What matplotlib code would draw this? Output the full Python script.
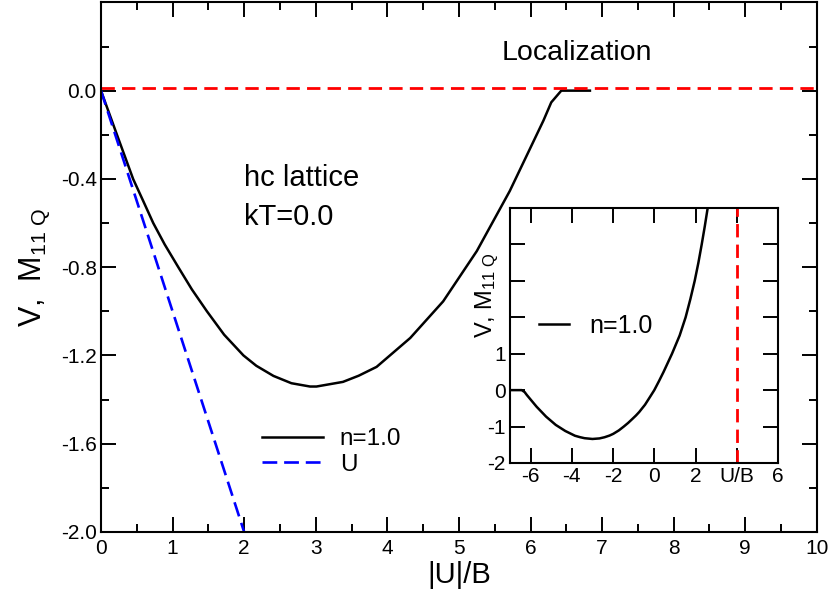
import matplotlib
matplotlib.use("Agg")
import matplotlib.pyplot as plt
from matplotlib.ticker import MultipleLocator

plt.rcParams['font.family'] = ['Liberation Sans', 'DejaVu Sans']
plt.rcParams['mathtext.fontset'] = 'custom'
plt.rcParams['mathtext.rm'] = 'Liberation Sans'
plt.rcParams['mathtext.it'] = 'Liberation Sans'

# main curve n=1.0
u_main = [0.0, 0.22, 0.45, 0.59, 0.73, 0.89, 1.08, 1.27, 1.48, 1.72,
          1.99, 2.17, 2.41, 2.66, 2.92, 3.01, 3.38, 3.6, 3.85, 4.32, 4.78,
          5.25, 5.71, 5.99, 6.18, 6.29, 6.43, 6.83]
v_main = [0.0, -0.197, -0.401, -0.50, -0.60, -0.697, -0.80, -0.901,
          -1.0, -1.106, -1.2, -1.247, -1.293, -1.326, -1.341, -1.341, -1.32,
          -1.292, -1.252, -1.121, -0.955, -0.727, -0.455, -0.265, -0.136,
          -0.053, 0.0, 0.0]
# bare U line
u_line = [0.0, 2.0]
v_line = [0.0, -2.0]
loc_level = 0.01

# inset: signed U/B
u_ins = [-7.0, -6.43, -6.29, -6.18, -5.99, -5.71, -5.25, -4.78, -4.32, -3.85,
         -3.6, -3.38, -3.0, -2.66, -2.41, -2.17, -1.99, -1.72, -1.48, -1.27,
         -1.08, -0.89, -0.73, -0.59, -0.45, -0.22, 0.0,
         0.23, 0.45, 0.86, 1.23, 1.52, 1.75, 1.96, 2.14, 2.30, 2.45, 2.59]
v_ins = [0.0, 0.0, -0.053, -0.136, -0.265, -0.455, -0.727, -0.955, -1.121,
         -1.252, -1.292, -1.32, -1.341, -1.326, -1.293, -1.247, -1.2, -1.106,
         -1.0, -0.901, -0.80, -0.697, -0.60, -0.50, -0.401, -0.197, 0.0,
         0.25, 0.5, 1.0, 1.5, 2.0, 2.5, 3.0, 3.5, 4.0, 4.5, 5.0]
u_crit = 4.0
ins_xticks = [-6, -4, -2, 0, 2, 4, 6]
ins_xlabels = ['-6', '-4', '-2', '0', '2', 'U/B', '6']
ins_yticks = [-2, -1, 0, 1, 2, 3, 4]
ins_ylabels = ['-2', '-1', '0', '1', '', '', '']

fig = plt.figure(figsize=(8.31, 5.97), dpi=100)
ax = fig.add_axes([0.1215, 0.109, 0.8615, 0.887])

ax.plot(u_main, v_main, color='black', lw=1.8, label='n=1.0')
ax.plot(u_line, v_line, color='blue', lw=1.9, dashes=(5.6, 2.6), label='U')
ax.axhline(loc_level, color='red', lw=2.0, dashes=(4.8, 2.6))

ax.set_xlim(0, 10)
ax.set_ylim(-2.0, 0.4)
ax.xaxis.set_major_locator(MultipleLocator(1))
ax.xaxis.set_minor_locator(MultipleLocator(0.5))
ax.set_yticks([-2.0, -1.6, -1.2, -0.8, -0.4, 0.0])
ax.set_yticklabels(['-2.0', '-1.6', '-1.2', '-0.8', '-0.4', '0.0'])
ax.yaxis.set_minor_locator(MultipleLocator(0.2))
ax.tick_params(which='both', direction='in', top=True, right=True,
               labelsize=15, width=1.4)
ax.tick_params(which='major', length=11)
ax.tick_params(axis='x', which='major', pad=5)
ax.tick_params(axis='y', which='major', pad=3)
ax.tick_params(which='minor', length=6)
for s in ax.spines.values():
    s.set_linewidth(1.5)

ax.set_xlabel('|U|/B', fontsize=21, labelpad=2)
ax.set_ylabel(r'V,  M$_{11\ Q}$', fontsize=22, labelpad=6)

ax.text(6.65, 0.17, 'Localization', fontsize=20.5, ha='center', va='center')
ax.text(2.0, -0.395, 'hc lattice', fontsize=21, ha='left', va='center')
ax.text(2.0, -0.573, 'kT=0.0', fontsize=21, ha='left', va='center')

ax.legend(loc='upper left', bbox_to_anchor=(0.225, 0.196), frameon=False,
          fontsize=17.5, handlelength=2.5, handletextpad=0.7,
          labelspacing=0.15, borderpad=0, borderaxespad=0)

# inset
axi = fig.add_axes([0.6137, 0.2245, 0.3225, 0.4271])
axi.plot(u_ins, v_ins, color='black', lw=1.8, label='n=1.0')
axi.axvline(u_crit, color='red', lw=2.0, dashes=(4.8, 2.6))
axi.set_xlim(-7, 6)
axi.set_ylim(-2, 5)
axi.set_xticks(ins_xticks)
axi.set_xticklabels(ins_xlabels)
axi.set_yticks(ins_yticks)
axi.set_yticklabels(ins_ylabels)
axi.tick_params(direction='in', top=True, right=True, labelsize=15,
                length=11, width=1.4, pad=3)
for s in axi.spines.values():
    s.set_linewidth(1.5)
axi.text(-0.085, 0.66, r'V, M$_{11\ Q}$', transform=axi.transAxes,
         rotation=90, fontsize=17, ha='center', va='center')
axi.legend(loc='upper left', bbox_to_anchor=(0.11, 0.585), frameon=False,
           fontsize=18, handlelength=1.2, handletextpad=0.8,
           borderpad=0, borderaxespad=0)

fig.savefig('out.png', dpi=100)
